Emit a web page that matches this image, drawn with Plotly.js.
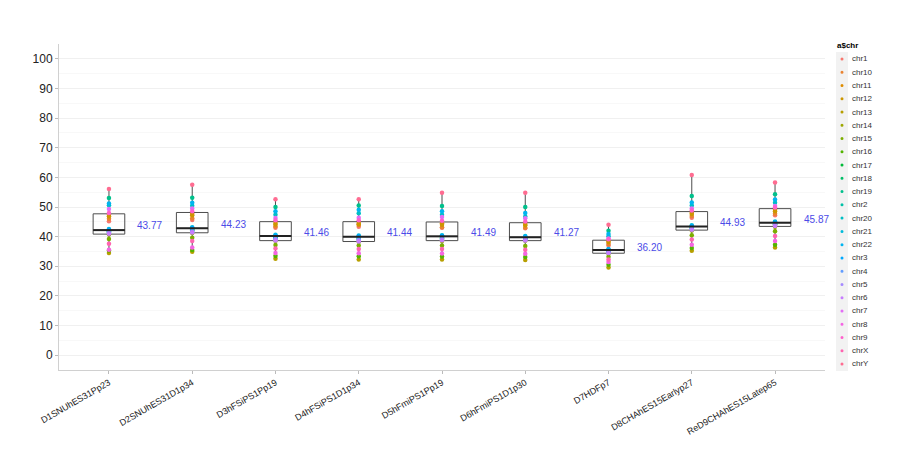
<!DOCTYPE html>
<html>
<head>
<meta charset="utf-8">
<script src="https://cdn.plot.ly/plotly-3.0.1.min.js"></script>
<style>html,body{margin:0;padding:0;background:#fff;}#chart{width:924px;height:463px;}</style>
</head>
<body>
<div id="chart"></div>
<script>
// ---- data ----
const samples = ["D1SNUhES31Pp23","D2SNUhES31D1p34","D3hFSiPS1Pp19","D4hFSiPS1D1p34","D5hFmiPS1Pp19","D6hFmiPS1D1p30","D7HDFp7","D8CHAhES15Earlyp27","ReD9CHAhES15Latep65"];
const chromosomes = ["chr1","chr10","chr11","chr12","chr13","chr14","chr15","chr16","chr17","chr18","chr19","chr2","chr20","chr21","chr22","chr3","chr4","chr5","chr6","chr7","chr8","chr9","chrX","chrY"];
// chromosome of each value position in the per-sample arrays below
const pointChr = ["chrY","chr19","chr22","chr20","chr7","chr9","chr11","chr12","chr10","chr1","chr21","chr3","chr18","chr2","chr17","chr4","chr5","chr6","chr14","chr15","chrX","chr8","chr16","chr13"];
const valsD1 = [56.1,53.0,51.2,50.6,49.3,48.0,47.4,46.9,46.0,45.2,42.6,42.3,42.1,41.8,41.6,41.4,41.2,41.0,40.7,39.2,37.6,35.6,35.3,34.5];
const valsD2 = [57.5,53.1,51.4,50.4,49.5,48.6,47.7,47.2,46.2,45.6,43.2,42.9,42.7,42.4,42.1,41.9,41.6,41.4,41.2,39.6,38.5,36.3,35.5,34.9];
const valsD3 = [52.6,50.0,48.6,47.4,46.3,45.5,44.6,44.1,43.4,43.0,40.6,40.3,40.1,39.8,39.5,39.2,39.0,38.7,38.6,37.2,36.0,34.5,33.5,32.5];
const valsD4 = [52.6,50.5,49.1,47.9,46.4,45.5,44.6,44.2,43.9,43.3,40.4,40.1,39.9,39.6,39.3,39.0,38.7,38.4,38.3,37.0,35.8,34.4,33.4,32.3];
const valsD5 = [54.8,50.3,48.6,47.4,46.6,45.4,44.5,44.0,43.2,43.0,40.5,40.2,40.0,39.7,39.4,39.2,39.0,38.8,38.5,37.0,35.8,34.3,33.3,32.3];
const valsD6 = [54.8,50.0,48.0,46.8,46.2,45.1,44.3,43.8,43.0,42.8,40.2,39.9,39.7,39.5,39.3,39.1,38.9,38.7,38.6,36.8,35.6,34.2,33.1,32.1];
const valsD7 = [44.0,42.0,40.9,40.1,39.4,39.1,38.5,38.2,37.5,37.0,35.8,35.6,35.4,35.2,35.0,34.8,34.6,34.5,34.3,33.2,32.3,31.4,30.5,29.6];
const valsD8 = [60.8,53.7,51.5,50.5,49.5,48.8,48.1,47.6,47.0,46.4,43.8,43.5,43.3,43.1,42.9,42.7,42.5,42.3,42.1,40.5,39.0,37.3,36.2,35.2];
const valsD9 = [58.3,54.3,52.5,51.4,50.3,49.8,49.1,48.6,47.7,47.2,45.1,44.8,44.6,44.4,44.2,44.0,43.8,43.6,43.3,41.8,40.2,38.5,37.3,36.3];
const meanLabels = ["43.77","44.23","41.46","41.44","41.49","41.27","36.20","44.93","45.87"];
const yTicks = [0,10,20,30,40,50,60,70,80,90,100];

// ---- style ----
const chrColors = ["#F8766D","#EA8331","#DE8C00","#CD9600","#B79F00","#9DA700","#7CAE00","#53B400","#00BA38","#00BE67","#00C08B","#00C1A7","#00BFC4","#00BBDA","#00B4F0","#00A9FF","#619CFF","#A58AFF","#C77CFF","#E36EF6","#F564E3","#FF61CC","#FF64B0","#FF6C91"];
const sampleVals = [valsD1,valsD2,valsD3,valsD4,valsD5,valsD6,valsD7,valsD8,valsD9];
const FONT = "Liberation Sans, Arial, sans-serif";
const L = 59, R = 825, T = 44, B = 370, W = 924, H = 463;

const traces = [];
samples.forEach((s, i) => {
  const v = sampleVals[i];
  traces.push({
    type: "box", x: v.map(() => s), y: v, boxpoints: false,
    fillcolor: "rgba(255,255,255,0)", line: {color: "#4d4d4d", width: 1},
    whiskerwidth: 0, width: 0.38, showlegend: false, hoverinfo: "skip"
  });
});
chromosomes.forEach((c, k) => {
  const idx = pointChr.indexOf(c);
  traces.push({
    type: "scatter", mode: "markers", name: c,
    x: samples, y: sampleVals.map(v => v[idx]),
    marker: {color: chrColors[k], size: 4.5}, showlegend: false
  });
});

function median(a) {
  const s = a.slice().sort((p, q) => p - q);
  const n = s.length;
  return n % 2 ? s[(n - 1) / 2] : (s[n / 2 - 1] + s[n / 2]) / 2;
}

const shapes = [];
const annotations = [];
sampleVals.forEach((v, i) => {
  const m = median(v);
  shapes.push({type: "line", xref: "x", yref: "y", x0: i - 0.19, x1: i + 0.19, y0: m, y1: m,
    line: {color: "#222", width: 2}});
  annotations.push({x: samples[i], y: parseFloat(meanLabels[i]), xref: "x", yref: "y",
    text: meanLabels[i], showarrow: false, xshift: 41,
    font: {family: FONT, size: 10, color: "#4B4BE8"}});
});

// manual legend
const px = x => (x - L) / (R - L);
const py = y => (B - y) / (B - T);
shapes.push({type: "rect", xref: "paper", yref: "paper", x0: px(836), x1: px(848), y0: py(52), y1: py(371),
  fillcolor: "#F2F2F2", line: {width: 0}, layer: "below"});
annotations.push({xref: "paper", yref: "paper", x: px(835), y: py(46), xanchor: "left", yanchor: "middle",
  text: "<b>a$chr</b>", showarrow: false, font: {family: FONT, size: 8, color: "#000"}});
chromosomes.forEach((c, k) => {
  const yy = 59 + k * 13.26;
  shapes.push({type: "circle", xref: "paper", yref: "paper", x0: px(840.5), x1: px(843.5), y0: py(yy - 1.5), y1: py(yy + 1.5),
    fillcolor: chrColors[k], line: {width: 0}});
  annotations.push({xref: "paper", yref: "paper", x: px(850), y: py(yy), xanchor: "left", yanchor: "middle",
    text: c, showarrow: false, font: {family: FONT, size: 8, color: "#333"}});
});

const layout = {
  width: W, height: H,
  margin: {l: L, r: W - R, t: T, b: H - B, pad: 0},
  paper_bgcolor: "#fff", plot_bgcolor: "#fff",
  showlegend: false,
  font: {family: FONT},
  xaxis: {
    type: "category", categoryorder: "array", categoryarray: samples,
    range: [-0.6, samples.length - 0.4],
    showgrid: false, zeroline: false,
    showline: true, linecolor: "#D0D0D0", linewidth: 1,
    ticks: "outside", ticklen: 3, tickcolor: "#BBBBBB",
    tickangle: -30, tickfont: {family: FONT, size: 9, color: "#222"}
  },
  yaxis: {
    range: [-5, 105], tickvals: yTicks, ticktext: yTicks.map(String),
    showgrid: true, gridcolor: "#F0F0F0", gridwidth: 1, zeroline: false,
    minor: {dtick: 5, tick0: 0, showgrid: true, gridcolor: "#F8F8F8", gridwidth: 1},
    showline: true, linecolor: "#D0D0D0", linewidth: 1,
    ticks: "outside", ticklen: 3, tickcolor: "#BBBBBB",
    tickfont: {family: FONT, size: 12, color: "#222"}
  },
  shapes: shapes,
  annotations: annotations
};

Plotly.newPlot("chart", traces, layout, {displayModeBar: false, staticPlot: true});
</script>
</body>
</html>
